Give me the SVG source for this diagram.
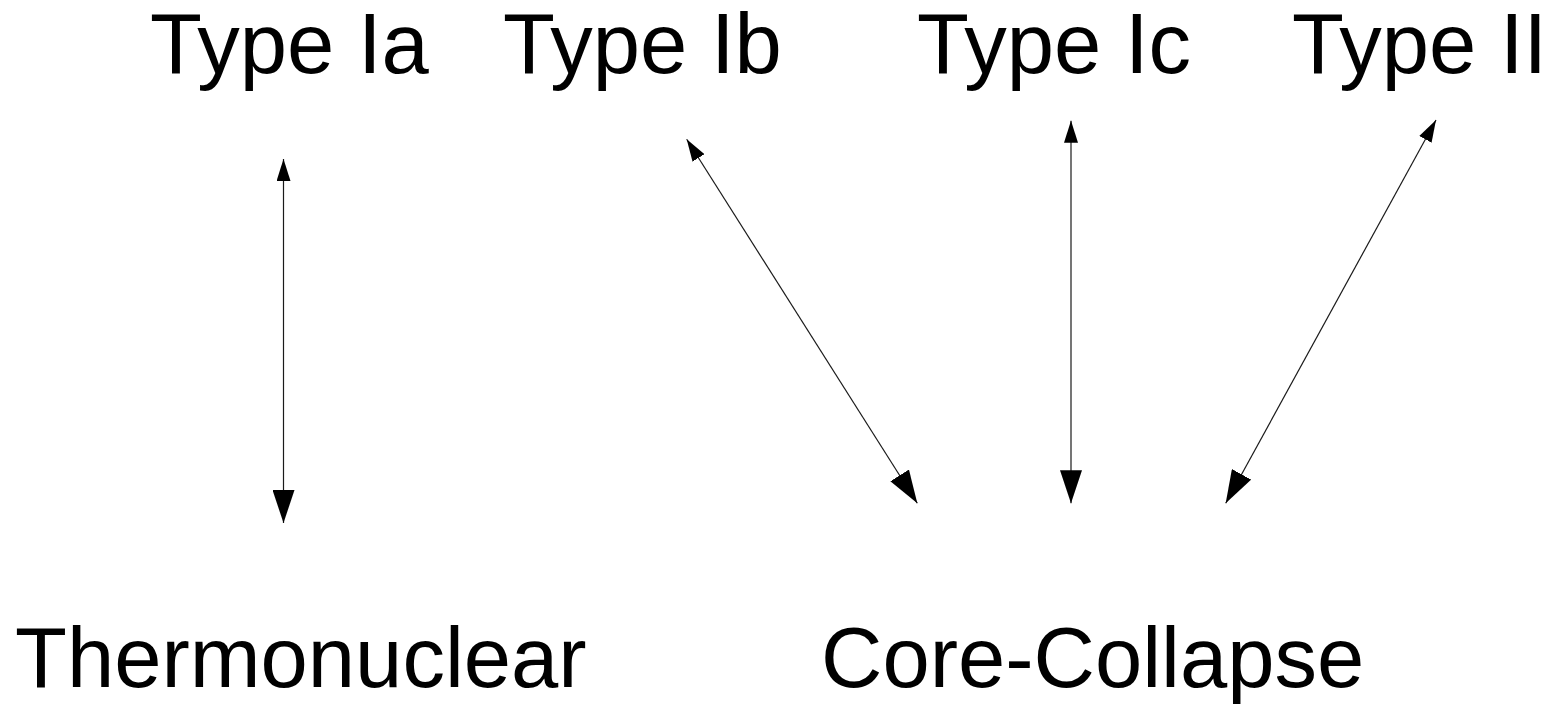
<svg xmlns="http://www.w3.org/2000/svg" width="1549" height="704" viewBox="0 0 1549 704">
<defs>
<style>
.lbl{font-family:"Liberation Sans",Arial,sans-serif;font-size:85px;fill:#000}
.con{stroke:#1a1a1a;stroke-width:1.2;fill:none;marker-start:url(#s);marker-end:url(#e)}
</style>
<marker id="s" viewBox="0 0 22 14" refX="22" refY="7" markerWidth="22" markerHeight="14" markerUnits="userSpaceOnUse" orient="auto-start-reverse"><path d="M0,0 L22,7 L0,14 Z" fill="#000"/></marker>
<marker id="e" viewBox="0 0 33 22" refX="33" refY="11" markerWidth="33" markerHeight="22" markerUnits="userSpaceOnUse" orient="auto"><path d="M0,0 L33,11 L0,22 Z" fill="#000"/></marker>
</defs>
<rect width="1549" height="704" fill="#fff"/>
<g id="typeIa"><text class="lbl" x="150" y="73">Type Ia</text></g>
<g id="typeIb"><text class="lbl" x="503" y="73">Type Ib</text></g>
<g id="typeIc"><text class="lbl" x="917" y="73">Type Ic</text></g>
<g id="typeII"><text class="lbl" x="1292" y="73">Type II</text></g>
<g id="thermonuclear"><text class="lbl" x="15" y="687">Thermonuclear</text></g>
<g id="corecollapse"><text class="lbl" x="821" y="687">Core-Collapse</text></g>
<g id="connectors">
<line class="con" x1="283.5" y1="159" x2="283.5" y2="523"/>
<line class="con" x1="686.7" y1="139.3" x2="917.3" y2="503.3"/>
<line class="con" x1="1071" y1="120.7" x2="1071" y2="503.3"/>
<line class="con" x1="1436" y1="120" x2="1225.7" y2="503.3"/>
</g>
</svg>
